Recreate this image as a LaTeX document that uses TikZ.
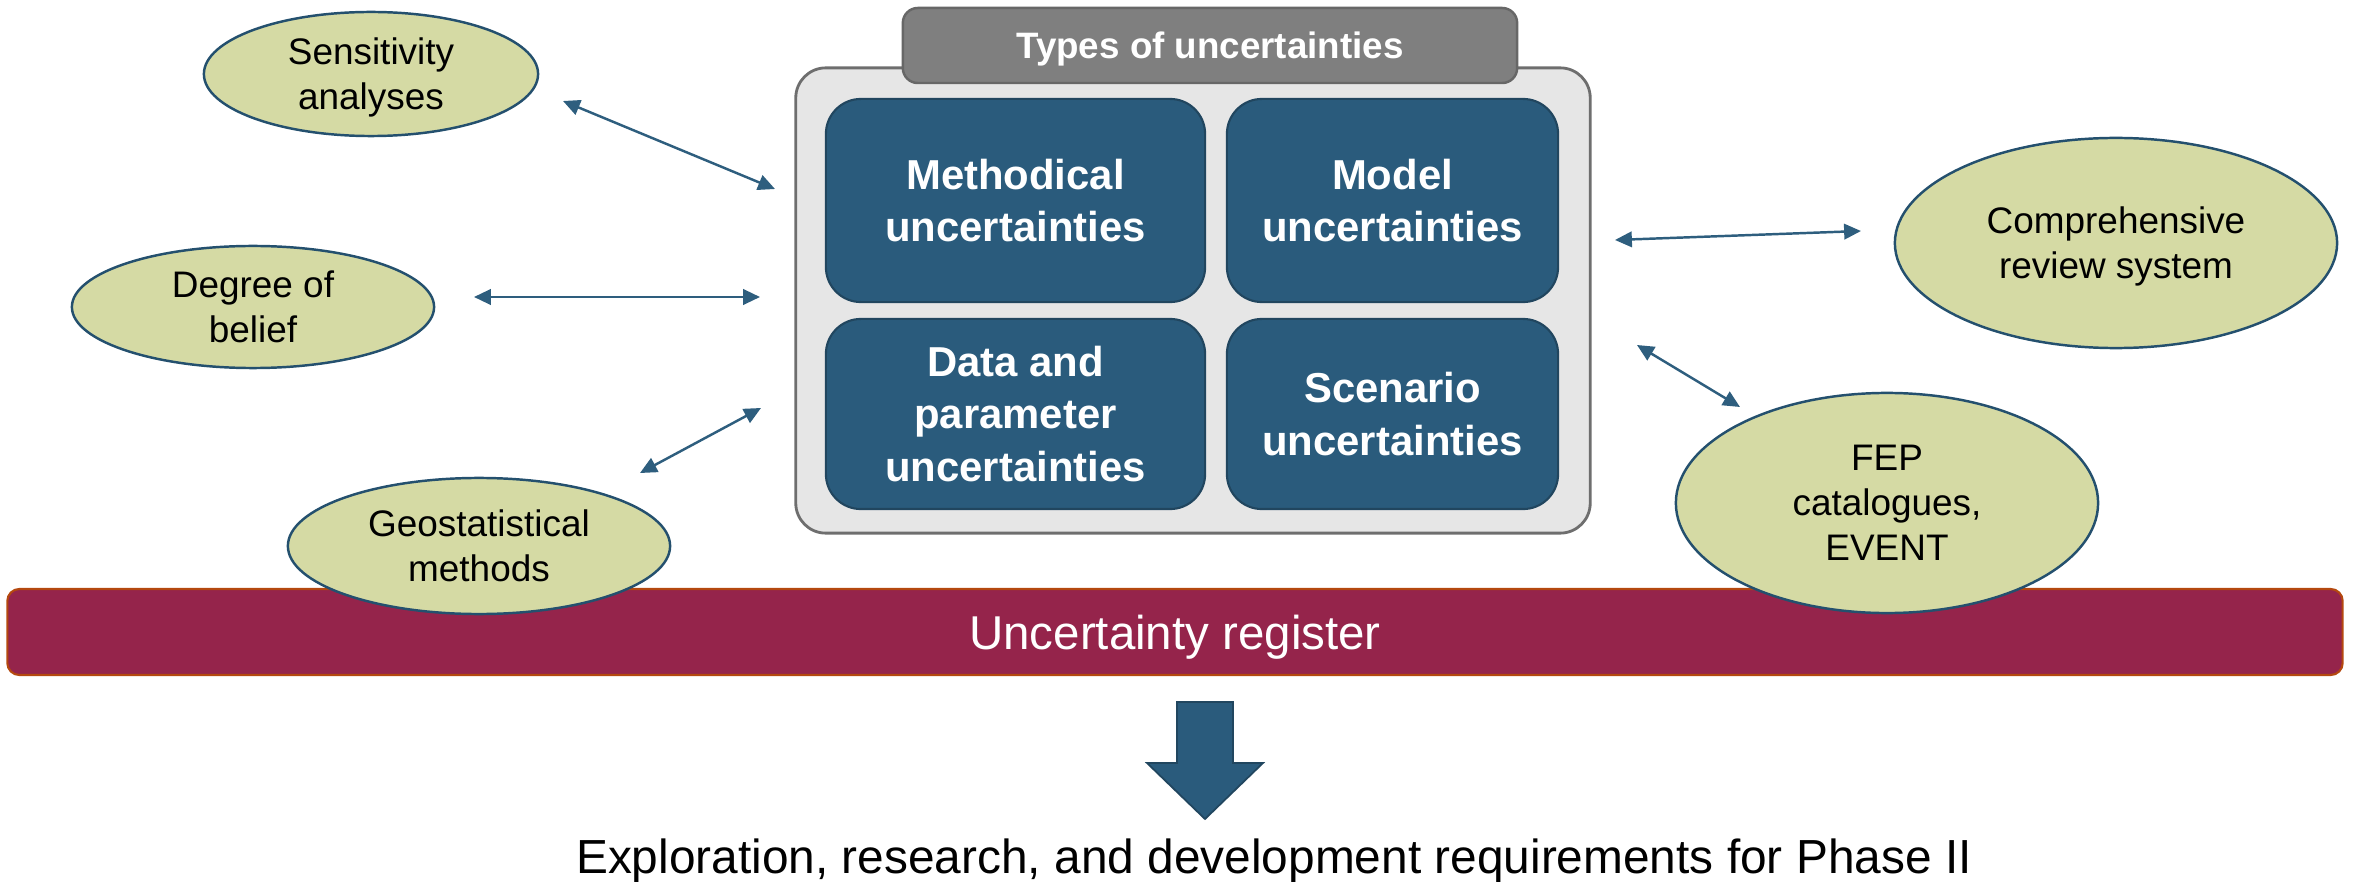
\documentclass[tikz,border=0pt]{standalone}
\usepackage{fontspec}
\setmainfont{Liberation Sans}
\usetikzlibrary{shapes.geometric,arrows.meta}
\definecolor{ellfill}{HTML}{D5DAA4}
\definecolor{ellline}{HTML}{24506E}
\definecolor{boxblue}{HTML}{2A5B7C}
\definecolor{boxline}{HTML}{21465F}
\definecolor{outerfill}{HTML}{E6E6E6}
\definecolor{outerline}{HTML}{6E6E6E}
\definecolor{tabfill}{HTML}{7F7F7F}
\definecolor{tabline}{HTML}{676767}
\definecolor{barfill}{HTML}{95244B}
\definecolor{barline}{HTML}{B4480F}
\definecolor{arrowc}{HTML}{2E5E7E}
\begin{document}
\begin{tikzpicture}[x=0.01cm,y=-0.01cm,
  ell/.style={ellipse, draw=ellline, line width=0.7pt, fill=ellfill, inner sep=0pt, align=center,
              text depth=0pt, font=\fontsize{10.5}{12.8}\selectfont},
  utype/.style={rectangle, rounded corners=0.35cm, draw=boxline, line width=0.6pt, fill=boxblue,
                text=white, align=center, inner sep=0pt, font=\fontsize{11.9}{15}\selectfont\bfseries},
  link/.style={draw=arrowc, line width=0.7pt,
               {Triangle[length=4.8pt,width=4.4pt]}-{Triangle[length=4.8pt,width=4.4pt]}},
]
\useasboundingbox (0,0) rectangle (2359,882);

% register bar
\node[rectangle, rounded corners=0.12cm, draw=barline, line width=0.6pt, fill=barfill,
      minimum width=23.34cm, minimum height=0.86cm, inner sep=0pt, text=white, text depth=0pt,
      font=\fontsize{13.5}{16}\selectfont] (reg) at (1175,632) {Uncertainty register};

% central container
\node[rectangle, rounded corners=0.3cm, draw=outerline, line width=0.8pt, fill=outerfill,
      minimum width=7.94cm, minimum height=4.65cm, inner sep=0pt] (outer) at (1193,300.5) {};
\node[rectangle, rounded corners=0.15cm, draw=tabline, line width=0.7pt, fill=tabfill,
      minimum width=6.14cm, minimum height=0.75cm, inner sep=0pt, text=white, text depth=0pt,
      font=\fontsize{10.45}{12.5}\selectfont\bfseries] (tab) at (1210,45.5) {Types of uncertainties};

\node[utype, minimum width=3.79cm, minimum height=2.03cm] (meth) at (1015.5,200.5) {Methodical\\uncertainties};
\node[utype, minimum width=3.31cm, minimum height=2.03cm] (model) at (1392.5,200.5) {Model\\uncertainties};
\node[utype, minimum width=3.79cm, minimum height=1.90cm] (data) at (1015.5,414) {Data and\\parameter\\uncertainties};
\node[utype, minimum width=3.31cm, minimum height=1.90cm] (scen) at (1392.5,414) {Scenario\\uncertainties};

% ellipses
\node[ell, minimum width=3.34cm, minimum height=1.24cm] (sens) at (371,74) {Sensitivity\\analyses};
\node[ell, minimum width=3.62cm, minimum height=1.22cm] (belief) at (253,307) {Degree of\\belief};
\node[ell, minimum width=3.82cm, minimum height=1.36cm] (geo) at (479,546) {Geostatistical\\methods};
\node[ell, minimum width=4.42cm, minimum height=2.10cm] (review) at (2116,243) {Comprehensive\\review system};
\node[ell, minimum width=4.22cm, minimum height=2.20cm] (fep) at (1887,503) {FEP\\catalogues,\\EVENT};

% link end points
\coordinate (s1) at (563,101);  \coordinate (s2) at (775,189);
\coordinate (b1) at (474,297);  \coordinate (b2) at (760,297);
\coordinate (g1) at (640,473);  \coordinate (g2) at (761,408);
\coordinate (r1) at (1615,240); \coordinate (r2) at (1861,231);
\coordinate (f1) at (1637,345); \coordinate (f2) at (1740,407);

\draw[link] (s1) -- (s2);
\draw[link] (b1) -- (b2);
\draw[link] (g1) -- (g2);
\draw[link] (r1) -- (r2);
\draw[link] (f1) -- (f2);

% outcome
\node[anchor=base, inner sep=0pt, font=\fontsize{13.6}{16}\selectfont] (outcome) at (1274,873)
  {Exploration, research, and development requirements for Phase II};

% big down arrow
\filldraw[fill=boxblue, draw=boxline, line width=0.5pt]
  (1177,702) -- (1233,702) -- (1233,763) -- (1263,763) -- (1205,819) -- (1147,763) -- (1177,763) -- cycle;
\end{tikzpicture}
\end{document}
